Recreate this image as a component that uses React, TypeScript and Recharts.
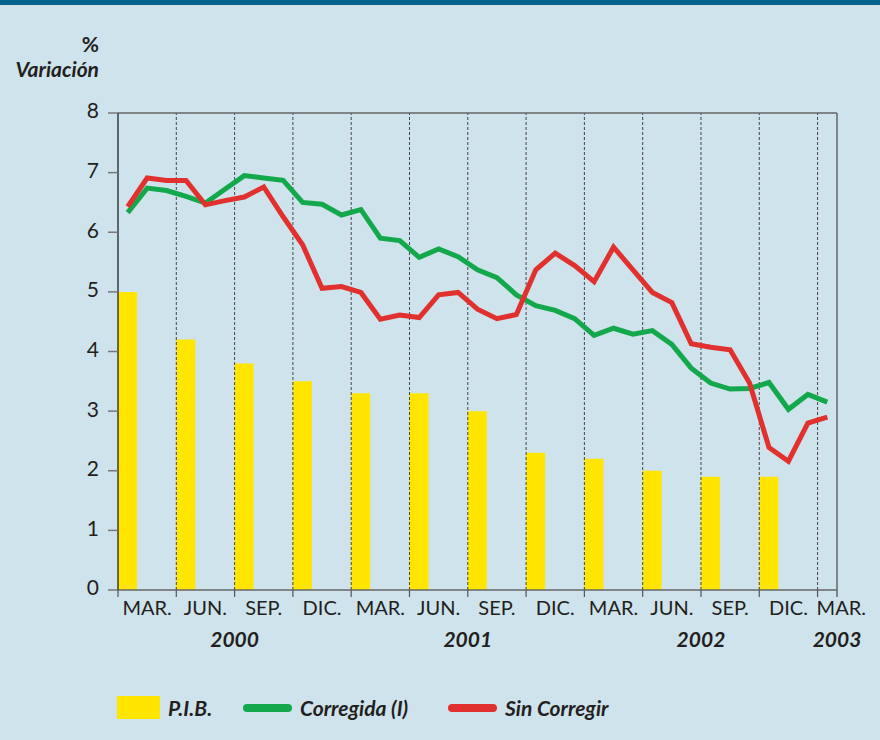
import React from 'react';
import {
    ComposedChart, Bar, Line, XAxis, YAxis, ReferenceLine
} from 'recharts';

// meses ene-2000 .. ene-2003 (37 posiciones)
const MESES = Array.from({ length: 37 }, (_, i) => i);

// PIB trimestral (una barra por trimestre, en el primer mes)
const PIB = [5.0, 4.2, 3.8, 3.5, 3.3, 3.3, 3.0, 2.3, 2.2, 2.0, 1.9, 1.9];

const CORREGIDA = [
    6.33, 6.74, 6.70, 6.60, 6.49, 6.72, 6.95, 6.91, 6.87, 6.50, 6.47, 6.29,
    6.38, 5.90, 5.86, 5.58, 5.72, 5.59, 5.37, 5.24, 4.95, 4.77, 4.69, 4.55,
    4.27, 4.39, 4.29, 4.35, 4.12, 3.72, 3.47, 3.37, 3.38, 3.48, 3.03, 3.28,
    3.15,
];

const SIN_CORREGIR = [
    6.43, 6.91, 6.87, 6.87, 6.46, 6.53, 6.59, 6.76, 6.26, 5.79, 5.06, 5.09,
    4.99, 4.54, 4.61, 4.57, 4.95, 4.99, 4.71, 4.55, 4.62, 5.37, 5.65, 5.44,
    5.17, 5.75, 5.37, 4.99, 4.82, 4.13, 4.07, 4.03, 3.47, 2.39, 2.16, 2.80,
    2.90,
];

const TRIMESTRES = ['MAR.', 'JUN.', 'SEP.', 'DIC.', 'MAR.', 'JUN.', 'SEP.', 'DIC.', 'MAR.', 'JUN.', 'SEP.', 'DIC.', 'MAR.'];
const ANIOS = ['2000', '2001', '2002', '2003'];
const Y_TICKS = [0, 1, 2, 3, 4, 5, 6, 7, 8];

const data = MESES.map((m) => ({
    m,
    pib: m % 3 === 0 ? PIB[m / 3] : null,
    corregida: CORREGIDA[m],
    sinCorregir: SIN_CORREGIR[m],
}));

const W = 880;
const H = 740;
const M_TOP = 113;
const M_BOTTOM = 90;
const X_AXIS_H = 60;
const PLOT_LEFT = 118;
const PLOT_RIGHT = 43;
const PLOT_W = W - PLOT_LEFT - PLOT_RIGHT;
const AXIS_Y = H - M_BOTTOM - X_AXIS_H;
const BAND = PLOT_W / MESES.length;

const FONT = 'Lato, "Open Sans", sans-serif';
const INK = '#231f20';
const GREEN = '#13a84b';
const RED = '#e1312e';
const YELLOW = '#ffe500';
const BG = '#cfe3ec';

const LAST = MESES.length - 1;
// límites de trimestre (líneas verticales punteadas)
const LIMITES = MESES.filter((m) => m > 0 && m % 3 === 0);
// año centrado en el límite de mitad de año; el último al borde derecho
const YEAR_AT: Record<number, string> = { 6: ANIOS[0], 18: ANIOS[1], 30: ANIOS[2] };

function MonthTick(props: any) {
    const { x, payload } = props;
    const y = AXIS_Y;
    const m = payload.value as number;
    const left = x - BAND / 2;
    const out: React.ReactNode[] = [];
    if (m % 3 === 0) {
        out.push(<line key="t" x1={left} x2={left} y1={y} y2={y + 7} stroke="#555" strokeWidth={1.2} />);
    }
    if (m % 3 === 1) {
        out.push(
            <text key="l" x={x} y={y + 25} textAnchor="middle" fill={INK} fontSize={20} fontFamily={FONT}>
                {TRIMESTRES[(m - 1) / 3]}
            </text>
        );
    }
    if (YEAR_AT[m]) {
        out.push(
            <text key="a" x={left} y={y + 57} textAnchor="middle" fill={INK} fontSize={21} fontWeight={700} fontStyle="italic" fontFamily={FONT}>
                {YEAR_AT[m]}
            </text>
        );
    }
    if (m === LAST) {
        const right = x + BAND / 2;
        out.push(
            <text key="l" x={left - 1} y={y + 25} textAnchor="start" fill={INK} fontSize={20} fontFamily={FONT}>
                {TRIMESTRES[TRIMESTRES.length - 1]}
            </text>,
            <line key="r" x1={right} x2={right} y1={y} y2={y + 7} stroke="#666" strokeWidth={1.5} />,
            <text key="a" x={right} y={y + 57} textAnchor="middle" fill={INK} fontSize={21} fontWeight={700} fontStyle="italic" fontFamily={FONT}>
                {ANIOS[ANIOS.length - 1]}
            </text>
        );
    }
    return <g>{out}</g>;
}

const legendText: React.CSSProperties = {
    position: 'absolute',
    top: 695,
    fontSize: 21,
    fontWeight: 700,
    fontStyle: 'italic',
    color: INK,
    fontFamily: FONT,
    lineHeight: '26px',
};

export default function App() {
    return (
        <>
            <style>{'body{margin:0}'}</style>
            <div style={{ position: 'relative', width: W, height: H, background: BG, fontFamily: FONT }}>
                <div style={{ position: 'absolute', left: 0, top: 0, width: W, height: 5, background: '#00628a' }} />

                <div style={{ position: 'absolute', right: W - 99, top: 31, fontSize: 21, fontWeight: 700, color: INK }}>%</div>
                <div style={{ position: 'absolute', right: W - 99, top: 56, fontSize: 21, fontWeight: 700, fontStyle: 'italic', color: INK }}>
                    Variación
                </div>

                <ComposedChart
                    width={W}
                    height={H}
                    data={data}
                    margin={{ top: M_TOP, right: PLOT_RIGHT, bottom: M_BOTTOM, left: PLOT_LEFT - 40 }}
                    barCategoryGap={0}
                    barGap={0}
                >
                    <XAxis
                        dataKey="m"
                        type="category"
                        interval={0}
                        height={X_AXIS_H}
                        tickLine={false}
                        tickSize={0}
                        axisLine={{ stroke: '#666', strokeWidth: 1.5 }}
                        tick={<MonthTick />}
                    />
                    <YAxis
                        domain={[0, 8]}
                        ticks={Y_TICKS}
                        width={40}
                        tickSize={10}
                        tickMargin={9}
                        tickLine={{ stroke: '#777', strokeWidth: 1.5 }}
                        axisLine={{ stroke: '#222', strokeWidth: 1.3 }}
                        tick={{ fill: INK, fontSize: 21, fontFamily: FONT, dy: -2 }}
                    />
                    {LIMITES.map((m) => (
                        <ReferenceLine key={m} x={m} position="start" stroke="#444" strokeDasharray="3 2" />
                    ))}
                    <ReferenceLine y={8} stroke="#666" strokeWidth={1.5} />
                    <ReferenceLine x={LAST} position="end" stroke="#666" strokeWidth={1.5} />

                    <Bar dataKey="pib" fill={YELLOW} isAnimationActive={false} />
                    <Line dataKey="corregida" stroke={GREEN} strokeWidth={5} dot={false} isAnimationActive={false} />
                    <Line dataKey="sinCorregir" stroke={RED} strokeWidth={5} dot={false} isAnimationActive={false} />
                </ComposedChart>

                {/* leyenda */}
                <div style={{ position: 'absolute', left: 117, top: 696, width: 43, height: 23, background: YELLOW }} />
                <div style={{ ...legendText, left: 168 }}>P.I.B.</div>
                <div style={{ position: 'absolute', left: 243, top: 704, width: 49, height: 8, borderRadius: 4, background: GREEN }} />
                <div style={{ ...legendText, left: 300 }}>Corregida (I)</div>
                <div style={{ position: 'absolute', left: 448, top: 704, width: 49, height: 8, borderRadius: 4, background: RED }} />
                <div style={{ ...legendText, left: 505 }}>Sin Corregir</div>
            </div>
        </>
    );
}
